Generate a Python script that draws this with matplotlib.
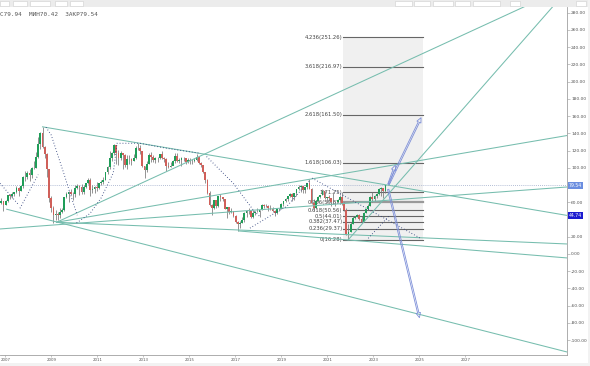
import numpy as np
import matplotlib
matplotlib.use("Agg")
import matplotlib.pyplot as plt
from matplotlib.patches import Rectangle, FancyArrowPatch
from matplotlib.ticker import FuncFormatter

# monthly candles, Dec 2006 .. Sep 2021 (x = bar index)
opens = [59.5,
    61.05, 57.0, 61.9, 68.1, 67.3, 70.0, 71.4, 77.1, 73.0, 79.2, 89.4, 88.9,
    93.9, 91.8, 100.1, 100.3, 112.2, 127.3, 139.8, 124.1, 115.5, 98.2, 65.3, 53.5,
    45.6, 45.9, 45.6, 49.2, 50.7, 65.6, 69.3, 72.1, 69.6, 69.1, 76.9, 78.5,
    77.9, 71.5, 77.6, 82.7, 86.2, 74.0, 75.0, 78.0, 76.6, 82.3, 83.2, 85.9,
    94.8, 101.0, 111.8, 117.4, 125.9, 116.7, 111.9, 116.7, 114.9, 102.8, 109.6, 110.5,
    107.4, 110.9, 122.7, 122.9, 119.5, 101.9, 97.8, 104.9, 114.6, 112.4, 108.7, 111.2,
    111.1, 115.6, 111.4, 110.0, 102.4, 100.4, 102.2, 107.7, 114.0, 108.4, 108.8, 110.8,
    110.8, 106.4, 109.1, 107.8, 108.1, 109.4, 112.4, 106.0, 103.2, 94.7, 85.9, 70.2,
    57.3, 53.0, 62.6, 55.1, 66.8, 65.6, 63.6, 52.2, 54.2, 48.4, 49.6, 44.6,
    37.3, 34.7, 36.0, 39.6, 48.1, 49.7, 49.7, 42.5, 47.0, 49.2, 48.3, 50.5,
    56.8, 55.7, 55.6, 52.8, 51.7, 50.3, 47.9, 52.7, 52.4, 57.5, 61.4, 63.6,
    66.9, 69.1, 65.8, 70.3, 75.2, 77.6, 79.4, 74.2, 77.4, 82.7, 75.5, 58.7,
    53.8, 61.9, 66.0, 68.4, 72.8, 64.5, 66.6, 65.2, 60.4, 60.8, 60.2, 62.4,
    66.0, 58.2, 50.5, 22.7, 25.3, 35.3, 41.2, 43.3, 45.3, 41.0, 37.5, 47.6,
    51.8, 55.9, 66.1, 63.5, 67.3, 69.3, 75.1, 76.3, 73.0]
highs = [64.6,
    61.4, 62.4, 68.3, 69.5, 71.4, 72.1, 78.6, 77.2, 80.3, 90.1, 96.8, 96.7,
    98.5, 101.0, 108.0, 118.0, 135.4, 141.7, 147.5, 125.3, 117.2, 98.9, 67.4, 55.2,
    50.5, 48.4, 53.9, 53.9, 66.2, 72.0, 72.8, 75.9, 71.6, 80.5, 81.1, 80.1,
    81.2, 79.8, 82.7, 88.1, 88.0, 79.6, 78.9, 83.5, 82.5, 85.4, 89.2, 95.0,
    101.5, 119.8, 117.9, 127.0, 126.7, 120.6, 119.2, 117.6, 116.2, 114.6, 115.2, 111.4,
    115.8, 125.4, 128.4, 126.3, 120.0, 102.4, 108.3, 117.0, 117.9, 114.6, 112.0, 112.0,
    115.9, 119.2, 112.2, 110.8, 106.2, 106.9, 109.3, 117.3, 117.3, 111.4, 112.4, 112.7,
    110.0, 111.2, 111.0, 110.6, 110.8, 115.7, 112.6, 106.5, 103.6, 95.3, 86.4, 73.0,
    58.3, 63.0, 62.6, 67.8, 69.6, 66.2, 63.6, 54.3, 54.5, 53.1, 50.4, 45.1,
    38.1, 37.9, 42.5, 48.5, 50.5, 52.9, 50.5, 51.2, 49.8, 53.7, 50.9, 57.9,
    58.4, 57.4, 56.8, 56.7, 54.7, 50.7, 52.9, 53.3, 59.5, 61.7, 64.7, 67.3,
    71.3, 70.5, 71.3, 75.9, 80.5, 79.7, 79.4, 78.1, 82.9, 86.7, 77.0, 63.4,
    62.9, 67.3, 68.7, 75.6, 73.2, 66.5, 67.9, 65.0, 71.9, 61.3, 64.3, 68.9,
    71.8, 59.8, 53.9, 35.0, 37.0, 43.9, 44.3, 46.5, 46.0, 43.6, 48.5, 52.5,
    57.4, 67.7, 71.75, 68.5, 70.2, 76.2, 77.8, 76.6, 79.94]
lows = [58.1,
    49.9, 56.5, 60.4, 64.0, 64.5, 67.4, 70.8, 67.1, 72.6, 76.7, 85.0, 87.1,
    85.1, 88.2, 98.0, 99.2, 111.0, 122.0, 122.5, 110.9, 88.8, 60.1, 48.5, 36.2,
    39.4, 39.5, 42.2, 47.3, 50.3, 64.9, 60.6, 68.8, 63.0, 65.6, 75.3, 68.6,
    69.9, 69.3, 76.5, 81.4, 67.1, 70.9, 70.9, 72.8, 75.2, 80.1, 81.0, 85.8,
    92.6, 98.3, 107.6, 114.8, 104.6, 103.3, 108.6, 98.7, 101.0, 99.1, 104.9, 103.0,
    107.6, 110.0, 121.1, 116.5, 101.0, 88.5, 95.1, 104.7, 106.9, 107.0, 105.0, 106.3,
    109.8, 110.7, 106.3, 96.8, 100.2, 100.4, 103.3, 106.0, 107.0, 105.5, 102.1, 107.8,
    104.8, 105.9, 104.9, 104.5, 106.7, 108.2, 104.3, 101.2, 94.4, 82.6, 69.8, 55.8,
    45.2, 52.6, 53.0, 54.2, 61.3, 61.5, 52.1, 42.2, 46.7, 47.0, 42.4, 36.0,
    27.1, 30.0, 35.6, 37.3, 43.1, 46.9, 41.5, 41.5, 45.0, 48.3, 43.1, 50.9,
    53.6, 54.3, 50.3, 50.9, 48.6, 44.4, 46.6, 49.7, 52.1, 55.1, 60.1, 61.0,
    66.6, 61.6, 62.9, 67.4, 74.0, 71.9, 71.1, 70.3, 75.9, 74.8, 58.4, 50.1,
    52.5, 60.2, 64.6, 68.2, 63.8, 59.5, 61.0, 55.9, 58.3, 56.2, 59.6, 60.9,
    57.2, 49.7, 21.6, 16.28, 25.0, 35.0, 41.0, 43.0, 38.9, 36.6, 36.6, 47.4,
    50.7, 55.3, 60.3, 61.5, 64.6, 68.4, 67.4, 64.6, 70.42]
closes = [61.05,
    57.0, 61.9, 68.1, 67.3, 70.0, 71.4, 77.1, 73.0, 79.2, 89.4, 88.9, 93.9,
    91.8, 100.1, 100.3, 112.2, 127.3, 139.8, 124.1, 115.5, 98.2, 65.3, 53.5, 45.6,
    45.9, 45.6, 49.2, 50.7, 65.6, 69.3, 72.1, 69.6, 69.1, 76.9, 78.5, 77.9,
    71.5, 77.6, 82.7, 86.2, 74.0, 75.0, 78.0, 76.6, 82.3, 83.2, 85.9, 94.8,
    101.0, 111.8, 117.4, 125.9, 116.7, 111.9, 116.7, 114.9, 102.8, 109.6, 110.5, 107.4,
    110.9, 122.7, 122.9, 119.5, 101.9, 97.8, 104.9, 114.6, 112.4, 108.7, 111.2, 111.1,
    115.6, 111.4, 110.0, 102.4, 100.4, 102.2, 107.7, 114.0, 108.4, 108.8, 110.8, 110.8,
    106.4, 109.1, 107.8, 108.1, 109.4, 112.4, 106.0, 103.2, 94.7, 85.9, 70.2, 57.3,
    53.0, 62.6, 55.1, 66.8, 65.6, 63.6, 52.2, 54.2, 48.4, 49.6, 44.6, 37.3,
    34.7, 36.0, 39.6, 48.1, 49.7, 49.7, 42.5, 47.0, 49.2, 48.3, 50.5, 56.8,
    55.7, 55.6, 52.8, 51.7, 50.3, 47.9, 52.7, 52.4, 57.5, 61.4, 63.6, 66.9,
    69.1, 65.8, 70.3, 75.2, 77.6, 79.4, 74.2, 77.4, 82.7, 75.5, 58.7, 53.8,
    61.9, 66.0, 68.4, 72.8, 64.5, 66.6, 65.2, 60.4, 60.8, 60.2, 62.4, 66.0,
    58.2, 50.5, 22.7, 25.3, 35.3, 41.2, 43.3, 45.3, 41.0, 37.5, 47.6, 51.8,
    55.9, 66.1, 63.5, 67.3, 69.3, 75.1, 76.3, 73.0, 79.54]

year_labels = ["2007", "2009", "2011", "2013", "2015", "2017", "2019",
               "2021", "2023", "2025", "2027"]

fib_levels = [0, 0.236, 0.382, 0.5, 0.618, 0.786, 1, 1.618, 2.618, 3.618, 4.236]
fib_prices = [16.28, 29.37, 37.47, 44.01, 50.56, 59.87, 71.75,
              106.03, 161.50, 216.97, 251.26]

# drawn trend lines: (bar, price) -> (bar, price)
trend_lines = [
    ((19, 147.5), (260.7, 44.74)),
    ((25.5, 36.8), (261, 310)),
    ((25.5, 36.8), (260.7, 137.4)),
    ((-0.6, 29.0), (260.7, 77.7)),
    ((25.5, 36.8), (260.7, 11.6)),
    ((109.4, 26.7), (260.7, -4.6)),
    ((2.5, 51.9), (260.7, -113.7)),
    ((159.8, 16.2), (258, 298)),
]

# dotted curves
dotted_paths = [
    [(-0.6, 82), (8, 57)],
    [(8.6, 53), (17, 92)],
    [(20.6, 147), (23, 138), (26, 115), (29, 92), (32, 68), (35, 45)],
    [(34.7, 36), (40.9, 47), (46, 65), (51.6, 94), (53.3, 128)],
    [(53.2, 128.4), (63.9, 128.4), (76.2, 122.6), (91.6, 116.8)],
    [(94.6, 113), (106.9, 82), (116.1, 51), (119.2, 43.3)],
    [(114.6, 30), (128.4, 51), (131.5, 55), (142.3, 86)],
    [(143.2, 88), (192.9, 18.6)],
    [(169.1, 18.2), (179.1, 45.2)],
]

arrow_start = (178, 78)
arrow_tips = [(182, 106), (194, 161), (193, -77)]

last_close = 79.54
line_value = 44.74

teal = "#76bdae"
fig = plt.figure(figsize=(5.9, 3.66), dpi=100, facecolor="white")
ax = fig.add_axes([0, 11 / 366, 567 / 590, 348 / 366])
ax.set_facecolor("white")

idx = np.arange(len(closes))
o = np.array(opens)
c = np.array(closes)
up = c >= o
colors = np.where(up, "#1f9d58", "#d0605a")

# fib block
fx0, fx1 = 157.5, 194.3
ax.add_patch(Rectangle((fx0, fib_prices[0]), fx1 - fx0, fib_prices[-1] - fib_prices[0],
                       fc="#f0f0f0", ec="none", zorder=0.5))
for lvl, pr in zip(fib_levels, fib_prices):
    lw = 1.6 if lvl == 0.786 else 0.8
    col = "#9a9a9a" if lvl == 0.786 else "#666666"
    ax.plot([fx0, fx1], [pr, pr], color=col, lw=lw, zorder=1.2)
    ax.text(fx0 - 0.3, pr, f"{lvl:g}({pr:.2f})", ha="right", va="center",
            fontsize=3.8, color="#444444", zorder=1.3)

ax.axhline(last_close, color="#9aa8c8", lw=0.6, ls=(0, (1, 1.5)), zorder=1)

ax.vlines(idx, lows, highs, color="#777777", lw=0.55, zorder=2)
ax.bar(idx, c - o, bottom=o, width=0.8, color=colors, lw=0, zorder=2.1)

for (x0, y0), (x1, y1) in trend_lines:
    ax.plot([x0, x1], [y0, y1], color=teal, lw=0.75, zorder=2.5)

for path in dotted_paths:
    xs, ys = zip(*path)
    ax.plot(xs, ys, color="#2c3e7a", lw=0.7, ls=(0, (0.8, 2.2)), zorder=2.6)

for tip in arrow_tips:
    ax.add_patch(FancyArrowPatch(arrow_start, tip,
                 arrowstyle="simple,head_length=3.5,head_width=3.2,tail_width=1.0",
                 fc="none", ec="#7d8fd8", lw=0.6, mutation_scale=1, zorder=3))

ax.set_xlim(-0.6, 260.7)
ax.set_ylim(-117.2, 286.5)

for s in ["top", "left"]:
    ax.spines[s].set_visible(False)
for s in ["right", "bottom"]:
    ax.spines[s].set_color("#a0a0a0")
    ax.spines[s].set_linewidth(0.6)

# 80 and 40 sit under the price boxes
ax.yaxis.tick_right()
ax.set_yticks([v for v in range(-100, 281, 20) if v not in (80, 40)])
ax.yaxis.set_major_formatter(FuncFormatter(lambda v, p: f"{v:.2f}"))
ax.tick_params(axis="y", length=2, width=0.4, color="#999999", labelsize=3.2,
               labelcolor="#555555", pad=1)
ax.set_xticks(1.84 + 21.2 * np.arange(len(year_labels)))
ax.set_xticklabels(year_labels)
ax.tick_params(axis="x", length=1.5, width=0.4, color="#999999", labelsize=2.8,
               labelcolor="#555555", pad=1)

box_tf = ax.get_yaxis_transform()
ax.text(1.003, last_close, f"{last_close:.2f}", transform=box_tf, ha="left", va="center",
        fontsize=3.3, color="white", zorder=5, clip_on=False,
        bbox=dict(boxstyle="square,pad=0.25", fc="#6b8ee0", ec="none"))
ax.text(1.003, line_value, f"{line_value:.2f}", transform=box_tf, ha="left", va="center",
        fontsize=3.3, color="white", zorder=5, clip_on=False,
        bbox=dict(boxstyle="square,pad=0.25", fc="#1c1cd0", ec="none"))

# toolbar strip and frame bits
fig.patches.append(Rectangle((0, 1 - 6.5 / 366), 1, 6.5 / 366, transform=fig.transFigure,
                             fc="#ececec", ec="none", zorder=0))
for bx0, bx1 in [(0, 9), (13, 27), (30, 50), (55, 67), (70, 83),
                 (395, 412), (414, 430), (433, 453), (455, 470), (473, 500), (510, 520),
                 (576, 586)]:
    fig.patches.append(Rectangle((bx0 / 590, 1 - 6 / 366), (bx1 - bx0) / 590, 5.5 / 366,
                                 transform=fig.transFigure, fc="white", ec="#cfcfcf",
                                 lw=0.4, zorder=1))
fig.patches.append(Rectangle((0, 0), 1, 3.5 / 366, transform=fig.transFigure,
                             fc="#f2f2f2", ec="none", zorder=0))
fig.patches.append(Rectangle((587.5 / 590, 0), 2.5 / 590, 1, transform=fig.transFigure,
                             fc="#f2f2f2", ec="none", zorder=0))

fig.text(0.0, 1 - 15 / 366, "С79.94  МИН70.42  ЗАКР79.54", ha="left", va="center",
         fontsize=4.3, family="DejaVu Sans Mono", color="#555555")

fig.savefig("out.png", dpi=100, facecolor="white")
